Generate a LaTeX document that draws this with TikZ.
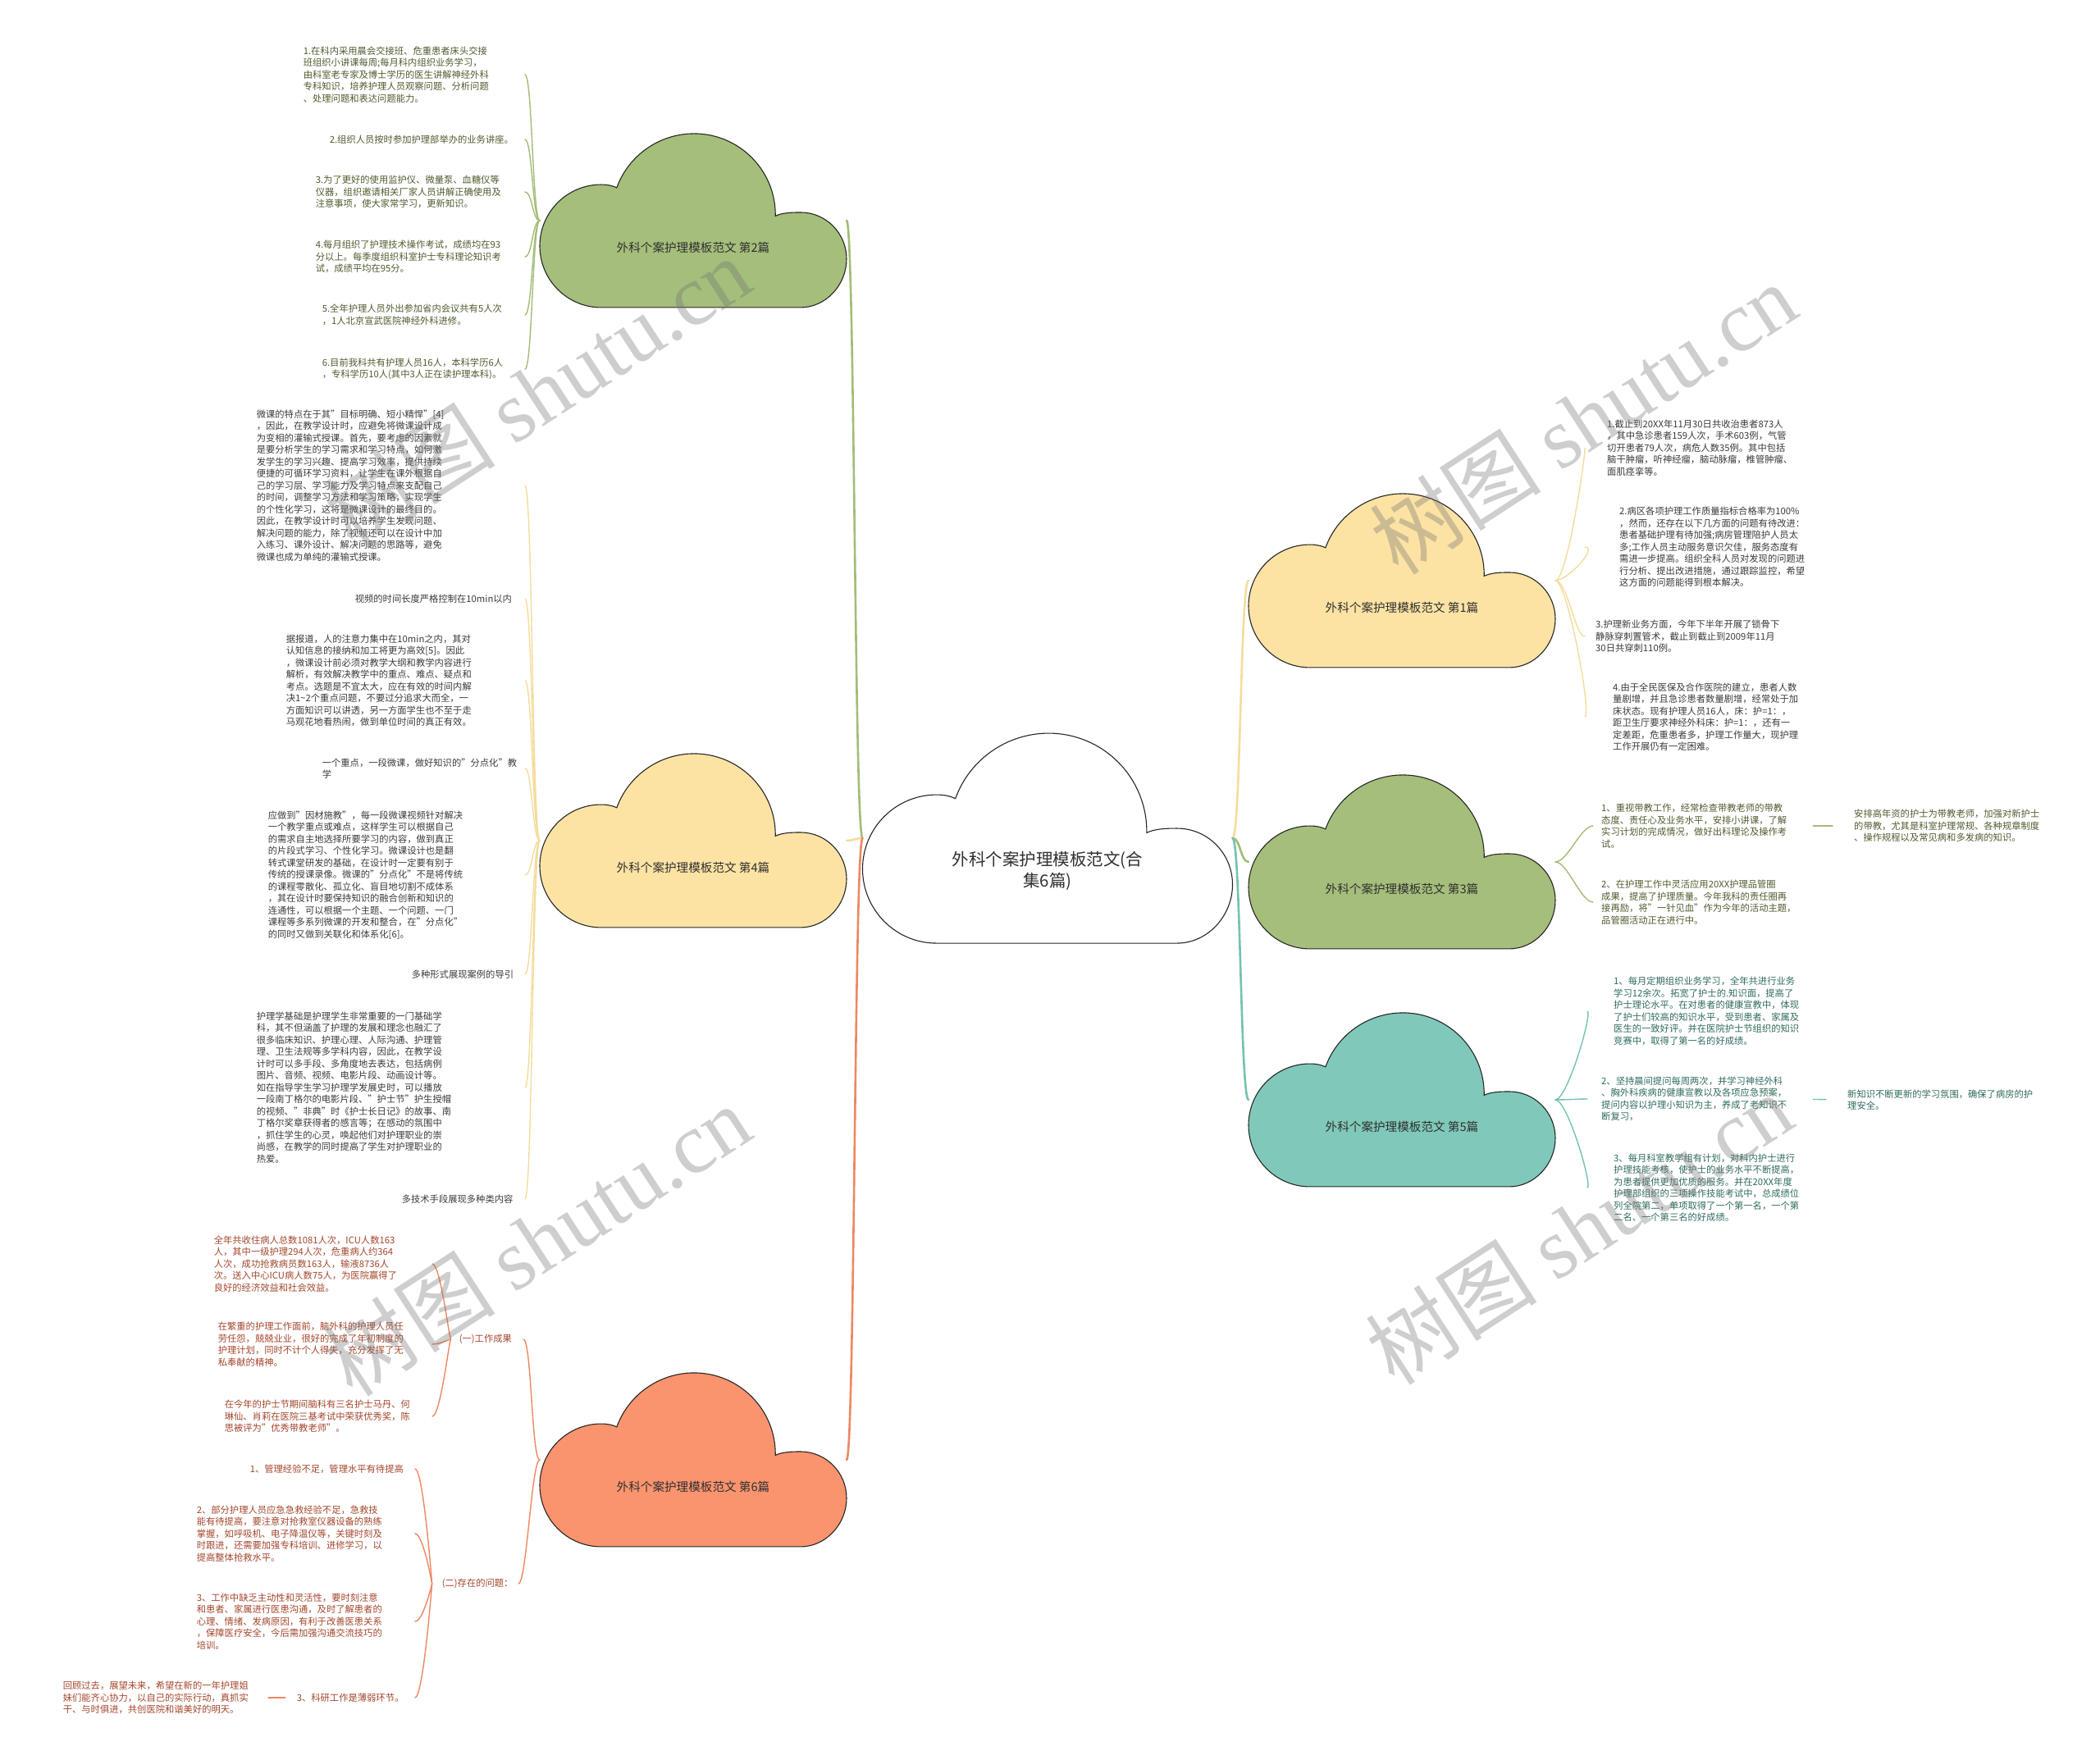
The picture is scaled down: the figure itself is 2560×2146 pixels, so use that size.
\documentclass[tikz,border=0pt]{standalone}
\usepackage{fontspec}
\setmainfont{Noto Sans CJK SC}
\newfontfamily\wmlatin{Liberation Serif}
\usetikzlibrary{calc,positioning}
\pgfdeclarelayer{background}
\pgfsetlayers{background,main}

\definecolor{grnfill}{HTML}{A5BE7B}
\definecolor{grnline}{HTML}{A3BC78}
\definecolor{grntext}{HTML}{4E5B2E}
\definecolor{ylwfill}{HTML}{FCE3A4}
\definecolor{ylwline}{HTML}{F5DC9C}
\definecolor{ylwtext}{HTML}{3A3A3A}
\definecolor{orgfill}{HTML}{F9946F}
\definecolor{orgline}{HTML}{EC8862}
\definecolor{orgtext}{HTML}{A2452B}
\definecolor{tealfill}{HTML}{80C9BA}
\definecolor{tealline}{HTML}{74C2B1}
\definecolor{tealtext}{HTML}{2F6A5E}
\definecolor{labeltext}{HTML}{303030}

\newcommand{\leaffont}{\fontsize{11.3}{14.5}\selectfont}
\newcommand{\cloudfont}{\fontsize{14.6}{18}\selectfont}
\newcommand{\rootfont}{\fontsize{20.5}{26}\selectfont}

\tikzset{
  leaf/.style={font=\leaffont, align=left, inner xsep=10pt, inner ysep=2pt, anchor=west},
  leafl/.style={leaf, anchor=east, inner xsep=2pt},
  cloudlabel/.style={font=\cloudfont, text=labeltext, inner sep=2pt, align=center},
  cloudedge/.style={draw=black!85, line width=1.1pt},
  trunk/.style={line width=2.6pt, line cap=round},
  twig/.style={line width=1.4pt, line cap=round},
  watermark/.style={rotate=33, text=black!55, opacity=0.35, font=\fontsize{105}{105}\selectfont}
}

% cloud outline behind a label node: #1 node, #2 fill, #3 width, #4 height
\newcommand{\cloudbody}[4]{%
  \begin{pgfonlayer}{background}
  \begin{scope}[shift={($(#1)+(-0.5*#3,-0.344*#4)$)}, x=#3pt, y=#4pt]
    \draw[cloudedge, fill=#2] (0.2,0) .. controls (0.0896,0) and (0,0.1585) .. (0,0.354)
      .. controls (0,0.549) and (0.0896,0.707) .. (0.2,0.707)
      .. controls (0.222,0.707) and (0.238,0.700) .. (0.251,0.689)
      .. controls (0.289,0.875) and (0.390,1) .. (0.503,1)
      .. controls (0.650,1) and (0.77,0.789) .. (0.768,0.526)
      .. controls (0.79,0.545) and (0.82,0.547) .. (0.85,0.547)
      .. controls (0.933,0.547) and (1,0.427) .. (1,0.279)
      .. controls (1,0.131) and (0.933,0) .. (0.85,0) -- cycle;
    \coordinate (#1-w) at (0,0.5);
    \coordinate (#1-e) at (1,0.5);
  \end{scope}
  \end{pgfonlayer}}

\begin{document}
\begin{tikzpicture}[x=1pt, y=1pt]
\useasboundingbox (0,0) rectangle (2560,-2146);

% centre and the six clouds
\node[cloudlabel, font=\rootfont] (root) at (1277,-1062) {外科个案护理模板范文(合\\集6篇)};
\node[cloudlabel] (n1) at (1709,-741) {外科个案护理模板范文 第1篇};
\node[cloudlabel] (n2) at (845,-302) {外科个案护理模板范文 第2篇};
\node[cloudlabel] (n3) at (1709,-1084) {外科个案护理模板范文 第3篇};
\node[cloudlabel] (n4) at (845,-1058) {外科个案护理模板范文 第4篇};
\node[cloudlabel] (n5) at (1709,-1374) {外科个案护理模板范文 第5篇};
\node[cloudlabel] (n6) at (845,-1813) {外科个案护理模板范文 第6篇};

\cloudbody{root}{white}{451}{256}
\cloudbody{n1}{ylwfill}{374}{212}
\cloudbody{n2}{grnfill}{374}{212}
\cloudbody{n3}{grnfill}{374}{212}
\cloudbody{n4}{ylwfill}{374}{212}
\cloudbody{n5}{tealfill}{374}{212}
\cloudbody{n6}{orgfill}{374}{212}

% 第1篇
\node[leaf, text=ylwtext] (a1) at (1949,-546) {1.截止到20XX年11月30日共收治患者873人\\，其中急诊患者159人次，手术603例，气管\\切开患者79人次，病危人数35例。其中包括\\脑干肿瘤，听神经瘤，脑动脉瘤，椎管肿瘤、\\面肌痉挛等。};
\node[leaf, text=ylwtext] (a2) at (1964,-667) {2.病区各项护理工作质量指标合格率为100\%\\，然而，还存在以下几方面的问题有待改进：\\患者基础护理有待加强;病房管理陪护人员太\\多;工作人员主动服务意识欠佳，服务态度有\\需进一步提高。组织全科人员对发现的问题进\\行分析、提出改进措施，通过跟踪监控，希望\\这方面的问题能得到根本解决。};
\node[leaf, text=ylwtext] (a3) at (1935,-776) {3.护理新业务方面，今年下半年开展了锁骨下\\静脉穿刺置管术，截止到截止到2009年11月\\30日共穿刺110例。};
\node[leaf, text=ylwtext] (a4) at (1956,-874) {4.由于全民医保及合作医院的建立，患者人数\\量剧增，并且急诊患者数量剧增，经常处于加\\床状态。现有护理人员16人，床：护=1：，\\距卫生厅要求神经外科床：护=1：，还有一\\定差距，危重患者多，护理工作量大，现护理\\工作开展仍有一定困难。};

% 第2篇
\node[leafl, text=grntext, text width=268] (b1) at (640,-91) {1.在科内采用晨会交接班、危重患者床头交接\\班组织小讲课每周;每月科内组织业务学习，\\由科室老专家及博士学历的医生讲解神经外科\\专科知识，培养护理人员观察问题、分析问题\\、处理问题和表达问题能力。};
\node[leafl, text=grntext, text width=236] (b2) at (640,-170) {2.组织人员按时参加护理部举办的业务讲座。};
\node[leafl, text=grntext, text width=253] (b3) at (640,-234) {3.为了更好的使用监护仪、微量泵、血糖仪等\\仪器，组织邀请相关厂家人员讲解正确使用及\\注意事项，使大家常学习，更新知识。};
\node[leafl, text=grntext, text width=253] (b4) at (640,-313) {4.每月组织了护理技术操作考试，成绩均在93\\分以上。每季度组织科室护士专科理论知识考\\试，成绩平均在95分。};
\node[leafl, text=grntext, text width=245] (b5) at (640,-384) {5.全年护理人员外出参加省内会议共有5人次\\，1人北京宣武医院神经外科进修。};
\node[leafl, text=grntext, text width=245] (b6) at (640,-450) {6.目前我科共有护理人员16人，本科学历6人\\，专科学历10人(其中3人正在读护理本科)。};

% 第3篇
\node[leaf, text=grntext] (c1) at (1942,-1007) {1、重视带教工作，经常检查带教老师的带教\\态度、责任心及业务水平，安排小讲课，了解\\实习计划的完成情况，做好出科理论及操作考\\试。};
\node[leaf, text=grntext] (c1x) at (2250,-1007) {安排高年资的护士为带教老师，加强对新护士\\的带教，尤其是科室护理常规、各种规章制度\\、操作规程以及常见病和多发病的知识。};
\node[leaf, text=grntext] (c2) at (1942,-1100) {2、在护理工作中灵活应用20XX护理品管圈\\成果，提高了护理质量。今年我科的责任圈再\\接再励，将"一针见血"作为今年的活动主题，\\品管圈活动正在进行中。};

% 第4篇
\node[leafl, text=ylwtext, text width=325] (d1) at (640,-592) {微课的特点在于其"目标明确、短小精悍"[4]\\，因此，在教学设计时，应避免将微课设计成\\为变相的灌输式授课。首先，要考虑的因素就\\是要分析学生的学习需求和学习特点，如何激\\发学生的学习兴趣、提高学习效率，提供持续\\便捷的可循环学习资料，让学生在课外根据自\\己的学习层、学习能力及学习特点来支配自己\\的时间，调整学习方法和学习策略，实现学生\\的个性化学习，这将是微课设计的最终目的。\\因此，在教学设计时可以培养学生发现问题、\\解决问题的能力，除了视频还可以在设计中加\\入练习、课外设计、解决问题的思路等，避免\\微课也成为单纯的灌输式授课。};
\node[leafl, text=ylwtext, text width=205] (d2) at (640,-730) {视频的时间长度严格控制在10min以内};
\node[leafl, text=ylwtext, text width=289] (d3) at (640,-830) {据报道，人的注意力集中在10min之内，其对\\认知信息的接纳和加工将更为高效[5]。因此\\，微课设计前必须对教学大纲和教学内容进行\\解析，有效解决教学中的重点、难点、疑点和\\考点。选题是不宜太大，应在有效的时间内解\\决1\textasciitilde2个重点问题，不要过分追求大而全，一\\方面知识可以讲透，另一方面学生也不至于走\\马观花地看热闹，做到单位时间的真正有效。};
\node[leafl, text=ylwtext, text width=245] (d4) at (640,-937) {一个重点，一段微课，做好知识的"分点化"教\\学};
\node[leafl, text=ylwtext, text width=311] (d5) at (640,-1067) {应做到"因材施教"，每一段微课视频针对解决\\一个教学重点或难点，这样学生可以根据自己\\的需求自主地选择所要学习的内容，做到真正\\的片段式学习、个性化学习。微课设计也是翻\\转式课堂研发的基础，在设计时一定要有别于\\传统的授课录像。微课的"分点化"不是将传统\\的课程零散化、孤立化、盲目地切割不成体系\\，其在设计时要保持知识的融合创新和知识的\\连通性，可以根据一个主题、一个问题、一门\\课程等多系列微课的开发和整合，在"分点化"\\的同时又做到关联化和体系化[6]。};
\node[leafl, text=ylwtext, text width=136] (d6) at (640,-1188) {多种形式展现案例的导引};
\node[leafl, text=ylwtext, text width=325] (d7) at (640,-1326) {护理学基础是护理学生非常重要的一门基础学\\科，其不但涵盖了护理的发展和理念也融汇了\\很多临床知识、护理心理、人际沟通、护理管\\理、卫生法规等多学科内容，因此，在教学设\\计时可以多手段、多角度地去表达，包括病例\\图片、音频、视频、电影片段、动画设计等。\\如在指导学生学习护理学发展史时，可以播放\\一段南丁格尔的电影片段、"护士节"护生授帽\\的视频、"非典"时《护士长日记》的故事、南\\丁格尔奖章获得者的感言等；在感动的氛围中\\，抓住学生的心灵，唤起他们对护理职业的崇\\尚感，在教学的同时提高了学生对护理职业的\\热爱。};
\node[leafl, text=ylwtext, text width=148] (d8) at (640,-1462) {多技术手段展现多种类内容};

% 第5篇
\node[leaf, text=tealtext] (e1) at (1957,-1233) {1、每月定期组织业务学习，全年共进行业务\\学习12余次。拓宽了护士的.知识面，提高了\\护士理论水平。在对患者的健康宣教中，体现\\了护士们较高的知识水平，受到患者、家属及\\医生的一致好评。并在医院护士节组织的知识\\竞赛中，取得了第一名的好成绩。};
\node[leaf, text=tealtext] (e2) at (1942,-1340) {2、坚持晨间提问每周两次，并学习神经外科\\、胸外科疾病的健康宣教以及各项应急预案，\\提问内容以护理小知识为主，养成了老知识不\\断复习，};
\node[leaf, text=tealtext] (e2x) at (2242,-1341) {新知识不断更新的学习氛围，确保了病房的护\\理安全。};
\node[leaf, text=tealtext] (e3) at (1957,-1448) {3、每月科室教学组有计划，对科内护士进行\\护理技能考核，使护士的业务水平不断提高，\\为患者提供更加优质的服务。并在20XX年度\\护理部组织的三项操作技能考试中，总成绩位\\列全院第二，单项取得了一个第一名，一个第\\二名、一个第三名的好成绩。};

% 第6篇
\node[leafl, text=orgtext, text width=76] (g1) at (638,-1633) {(一)工作成果};
\node[leafl, text=orgtext, text width=91] (g2) at (632,-1931) {(二)存在的问题：};
\node[leafl, text=orgtext, text width=264] (f1) at (527,-1541) {全年共收住病人总数1081人次，ICU人数163\\人，其中一级护理294人次，危重病人约364\\人次，成功抢救病员数163人，输液8736人\\次。送入中心ICU病人数75人，为医院赢得了\\良好的经济效益和社会效益。};
\node[leafl, text=orgtext, text width=259] (f2) at (527,-1639) {在繁重的护理工作面前，脑外科的护理人员任\\劳任怨，兢兢业业，很好的完成了年初制度的\\护理计划，同时不计个人得失，充分发挥了无\\私奉献的精神。};
\node[leafl, text=orgtext, text width=251] (f3) at (527,-1727) {在今年的护士节期间脑科有三名护士马丹、何\\琳仙、肖莉在医院三基考试中荣获优秀奖，陈\\思被评为"优秀带教老师"。};
\node[leafl, text=orgtext, text width=199] (h1) at (506,-1791) {1、管理经验不足，管理水平有待提高};
\node[leafl, text=orgtext, text width=264] (h2) at (506,-1870) {2、部分护理人员应急急救经验不足，急救技\\能有待提高，要注意对抢救室仪器设备的熟练\\掌握，如呼吸机、电子降温仪等，关键时刻及\\时跟进，还需要加强专科培训、进修学习，以\\提高整体抢救水平。};
\node[leafl, text=orgtext, text width=264] (h3) at (506,-1977) {3、工作中缺乏主动性和灵活性，要时刻注意\\和患者、家属进行医患沟通，及时了解患者的\\心理、情绪、发病原因，有利于改善医患关系\\，保障医疗安全，今后需加强沟通交流技巧的\\培训。};
\node[leafl, text=orgtext, text width=142] (h4) at (506,-2070) {3、科研工作是薄弱环节。};
\node[leafl, text=orgtext, text width=228] (h4x) at (307,-2070) {回顾过去，展望未来，希望在新的一年护理姐\\妹们能齐心协力，以自己的实际行动，真抓实\\干、与时俱进，共创医院和谐美好的明天。};

% trunks
\draw[trunk, grnline] (root-w) .. controls +(-10,0) and +(10,0) .. (n2-e);
\draw[trunk, ylwline] (root-w) .. controls +(-10,0) and +(10,0) .. (n4-e);
\draw[trunk, orgline] (root-w) .. controls +(-10,0) and +(10,0) .. (n6-e);
\draw[trunk, ylwline] (root-e) .. controls +(10,0) and +(-10,0) .. (n1-w);
\draw[trunk, grnline] (root-e) .. controls +(10,0) and +(-10,0) .. (n3-w);
\draw[trunk, tealline] (root-e) .. controls +(10,0) and +(-10,0) .. (n5-w);

% twigs
\foreach \q/\s in {a1/17,a2/32,a3/3,a4/24}
  \draw[twig, ylwline, shorten >=\s pt] (n1-e) .. controls +(15,0) and +(-15,0) .. (\q.west);
\foreach \q in {b1,b2,b3,b4,b5,b6}
  \draw[twig, grnline] (n2-w) .. controls +(-9,0) and +(9,0) .. (\q.east);
\foreach \q in {c1,c2}
  \draw[twig, grnline] (n3-e) .. controls +(15,0) and +(-15,0) .. (\q.west);
\foreach \q in {d1,d2,d3,d4,d5,d6,d7,d8}
  \draw[twig, ylwline] (n4-w) .. controls +(-9,0) and +(9,0) .. (\q.east);
\foreach \q/\s in {e1/22,e2/7,e3/22}
  \draw[twig, tealline, shorten >=\s pt] (n5-e) .. controls +(15,0) and +(-15,0) .. (\q.west);
\foreach \q in {g1,g2}
  \draw[twig, orgline] (n6-w) .. controls +(-10,0) and +(10,0) .. (\q.east);
\foreach \q in {f1,f2,f3}
  \draw[twig, orgline, shorten <=8pt] (g1.west) .. controls +(-10,0) and +(10,0) .. (\q.east);
\foreach \q in {h1,h2,h3,h4}
  \draw[twig, orgline, shorten <=10pt] (g2.west) .. controls +(-10,0) and +(10,0) .. (\q.east);

\draw[twig, grnline, shorten <=22pt, shorten >=16pt] (c1.east) -- (c1x.west);
\draw[twig, tealline, shorten <=22pt, shorten >=16pt] (e2.east) -- (e2x.west);
\draw[twig, orgline, shorten <=12pt, shorten >=20pt] (h4.west) -- (h4x.east);

% watermarks
\node[watermark] (wm1) at (655,-478) {树图 {\wmlatin shutu.cn}};
\node[watermark] (wm2) at (1930,-510) {树图 {\wmlatin shutu.cn}};
\node[watermark] (wm3) at (655,-1512) {树图 {\wmlatin shutu.cn}};
\node[watermark] (wm4) at (1925,-1498) {树图 {\wmlatin shutu.cn}};
\end{tikzpicture}
\end{document}
